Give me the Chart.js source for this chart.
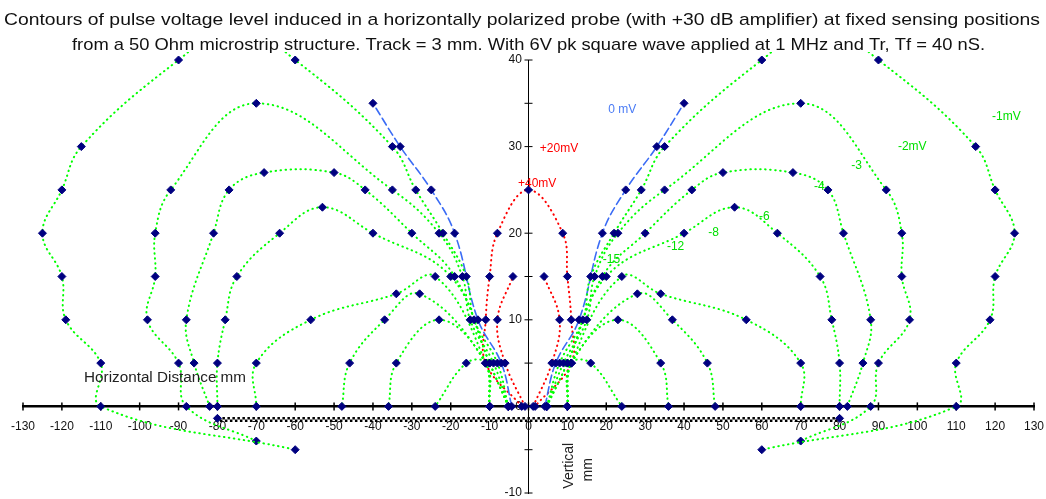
<!DOCTYPE html>
<html>
<head>
<meta charset="utf-8">
<script src="https://cdn.jsdelivr.net/npm/chart.js@4.4.1/dist/chart.umd.min.js"></script>
<style>
  html, body { margin: 0; padding: 0; background: #fff; }
  canvas { display: block; }
</style>
</head>
<body>
<canvas id="chart" width="1046" height="499"></canvas>
<script>
// two-line chart heading
const titleLines = [
  'Contours of pulse voltage level induced in a horizontally polarized probe (with +30 dB amplifier) at fixed sensing positions',
  'from a 50 Ohm microstrip structure. Track = 3 mm. With 6V pk square wave applied at 1 MHz and Tr, Tf = 40 nS.'
];

// contour points [horizontal mm, vertical mm]
const plus40 = [[-1.75,0],[-11,5],[-11,10],[-10,15],[-8,20],[0,25],[8.8,20],[10,15],[11,10],[11,5],[1.7,0]];
const plus20Left  = [[-0.9,0],[-6,5],[-8,10],[-4,15]];
const plus20Right = [[1.2,0],[6,5],[8,10],[4,15]];

const zeroLeft  = [[-4.3,0],[-7,5],[-13,10],[-19,20],[-25,25],[-33,30],[-40,35]];
const zeroRight = [[4.2,0],[7,5],[13,10],[19,20],[25,25],[33,30],[40,35]];

const minus1Left  = [[-5.2,0],[-8,5],[-14,10],[-16,15],[-22,20],[-29,25],[-35,30],[-60,40],[-75,44],[-90,40],[-115,30],[-120,25],[-125,20],[-120,15],[-119,10],[-110,5],[-110,0],[-60,-5]];
const minus1Right = [[4.7,0],[8,5],[14,10],[16,15],[22,20],[29,25],[35,30],[60,40],[75,44],[90,40],[115,30],[120,25],[125,20],[120,15],[118.7,10],[110,5],[110,0],[60,-5]];

const minus2Left  = [[-5.2,0],[-9,5],[-15,10],[-17,15],[-23,20],[-35,25],[-70,35],[-92,25],[-96,20],[-96,15],[-98,10],[-90,5],[-88,0],[-70,-4]];
const minus2Right = [[4.7,0],[9,5],[15,10],[17,15],[23,20],[35,25],[70,35],[92,25],[96,20],[96,15],[98,10],[90,5],[88,0],[70,-4]];

const minus3Left  = [[-5.2,0],[-10,5],[-19,15],[-30,20],[-42,25],[-50,27],[-68,27],[-77,25],[-81,20],[-88,10],[-86,5],[-82,0]];
const minus3Right = [[4.7,0],[10,5],[19,15],[30,20],[42,25],[50,27],[68,27],[77,25],[81,20],[88,10],[86,5],[82,0]];

const minus4Left  = [[-5.2,0],[-10,5],[-20,15],[-40,20],[-53,23],[-64,20],[-75,15],[-78,10],[-80,5],[-80,0]];
const minus4Right = [[4.7,0],[10,5],[20,15],[40,20],[53,23],[64,20],[75,15],[78,10],[80,5],[80,0]];

const minus6Left  = [[-10,0],[-11,5],[-24,15],[-34,13],[-56,10],[-70,5],[-70,0]];
const minus6Right = [[10,0],[11,5],[24,15],[34,13],[56,10],[70,5],[70,0]];

const minus8Left  = [[-10,0],[-11,5],[-28,13],[-37,10],[-46,5],[-48,0]];
const minus8Right = [[10,0],[11,5],[28,13],[37,10],[46,5],[48,0]];

const minus12Left  = [[-10,0],[-11,5],[-23,10],[-34,5],[-36,0]];
const minus12Right = [[10,0],[11,5],[23,10],[34,5],[36,0]];

const minus15Left  = [[-10,0],[-11,5],[-16,5],[-24,0]];
const minus15Right = [[10,0],[11,5],[16,5],[24,0]];

// microstrip track, two edges of the strip
const trackTop    = [[-80,-1.38],[80,-1.38]];
const trackBottom = [[-80,-1.66],[80,-1.66]];

// contour level notes
const noteText  = ['-1mV','-2mV','-3','-4','-6','-8','-12','-15','0 mV','+20mV','+40mV'];
const noteX     = [119.2, 95, 83, 73.4, 59.3, 46.2, 35.6, 19.1, 20.5, 2.9, -2.7];
const noteY     = [33.5, 30, 27.8, 25.4, 21.9, 20.1, 18.5, 16.9, 34.3, 29.8, 25.7];
const noteColor = ['#00e000','#00e000','#00e000','#00e000','#00e000','#00e000','#00e000','#00e000','#4a7bf5','#ff0000','#ff0000'];

const GREEN = '#00ff00';
const NAVY = '#000080';
const FONT = "'Liberation Sans', Arial, sans-serif";

function pts(arr) {
  return arr.map(p => ({x: p[0], y: p[1]}));
}

function contour(arr, color, dash, width) {
  return {
    data: pts(arr),
    showLine: true,
    borderColor: color,
    borderWidth: width,
    borderDash: dash,
    borderCapStyle: 'round',
    tension: 0.4,
    pointStyle: 'rectRot',
    pointRadius: 4,
    pointHoverRadius: 4,
    pointBackgroundColor: NAVY,
    pointBorderColor: NAVY,
    pointBorderWidth: 1,
    clip: {left: 2, right: 2, top: 8, bottom: 2}
  };
}

const dotted = [0.5, 4.5];
const greens = [minus1Left, minus1Right, minus2Left, minus2Right, minus3Left, minus3Right,
  minus4Left, minus4Right, minus6Left, minus6Right, minus8Left, minus8Right,
  minus12Left, minus12Right, minus15Left, minus15Right];

const datasets = [];
greens.forEach(g => datasets.push(contour(g, GREEN, dotted, 2)));
datasets.push(contour(zeroLeft, '#3b6cf5', [8, 4], 1.6));
datasets.push(contour(zeroRight, '#3b6cf5', [8, 4], 1.6));
datasets.push(contour(plus40, '#ff0000', dotted, 2));
datasets.push(contour(plus20Left, '#ff0000', dotted, 2));
datasets.push(contour(plus20Right, '#ff0000', dotted, 2));

const t1 = contour(trackTop, '#000', [2.5, 2.5], 2.5);
t1.tension = 0; t1.pointRadius = [4, 4]; t1.borderCapStyle = 'butt';
const t2 = contour(trackBottom, '#000', [2.5, 2.5], 2.5);
t2.tension = 0; t2.pointRadius = 0; t2.borderCapStyle = 'butt'; t2.borderDashOffset = 2.5;
datasets.push(t2, t1);

// draw a text line stretched to a measured width
function fitText(ctx, text, cx, cy, width) {
  const w = ctx.measureText(text).width;
  ctx.save();
  ctx.translate(cx, cy);
  ctx.scale(width / w, 1);
  ctx.fillText(text, 0, 0);
  ctx.restore();
}

// centred axes should not push the plot area in
function noPad(scale) {
  scale.paddingLeft = 0;
  scale.paddingRight = 0;
  scale.paddingTop = 0;
  scale.paddingBottom = 0;
}

const notes = {
  id: 'notes',
  beforeDatasetsDraw(chart) {
    const ctx = chart.ctx;
    const xs = chart.scales.x, ys = chart.scales.y;
    const x0 = xs.getPixelForValue(0), y0 = ys.getPixelForValue(0);
    ctx.save();
    ctx.strokeStyle = '#000';
    ctx.lineWidth = 1.5;
    xs.ticks.forEach(t => {
      const px = xs.getPixelForValue(t.value);
      ctx.beginPath(); ctx.moveTo(px, y0 - 4); ctx.lineTo(px, y0 + 4); ctx.stroke();
    });
    ctx.lineWidth = 1;
    ys.ticks.forEach(t => {
      const py = ys.getPixelForValue(t.value);
      ctx.beginPath(); ctx.moveTo(x0 - 4, py); ctx.lineTo(x0 + 4, py); ctx.stroke();
    });
    ctx.restore();
  },
  afterDatasetsDraw(chart) {
    const ctx = chart.ctx;
    const xs = chart.scales.x, ys = chart.scales.y;
    ctx.save();
    ctx.textBaseline = 'middle';
    ctx.fillStyle = '#111';
    ctx.textAlign = 'center';
    ctx.font = '17px ' + FONT;
    fitText(ctx, titleLines[0], 522, 20, 1036);
    fitText(ctx, titleLines[1], 528.5, 45, 913);

    ctx.font = '12px ' + FONT;
    ctx.textAlign = 'left';
    noteText.forEach((t, i) => {
      ctx.fillStyle = noteColor[i];
      ctx.fillText(t, xs.getPixelForValue(noteX[i]), ys.getPixelForValue(noteY[i]));
    });

    ctx.fillStyle = '#222';
    ctx.font = '14px ' + FONT;
    fitText(ctx, 'Horizontal Distance mm', xs.getPixelForValue(-114.3), ys.getPixelForValue(3.3), 162);

    ctx.translate(xs.getPixelForValue(10.4), ys.getPixelForValue(-6.85));
    ctx.rotate(-Math.PI / 2);
    ctx.textAlign = 'center';
    ctx.fillText('Vertical', 0, 0);
    ctx.fillText('mm', -4, 19);
    ctx.restore();
  }
};

new Chart(document.getElementById('chart'), {
  type: 'scatter',
  data: {datasets},
  options: {
    responsive: false,
    animation: false,
    devicePixelRatio: 1,
    layout: {padding: {left: 23, right: 12, top: 60, bottom: 6}},
    plugins: {legend: {display: false}, tooltip: {enabled: false}, title: {display: false}},
    scales: {
      x: {
        type: 'linear',
        position: {y: 0},
        min: -130, max: 130,
        afterFit: noPad,
        ticks: {stepSize: 10, color: '#111', font: {family: FONT, size: 12}, padding: 13, maxRotation: 0, autoSkip: false},
        grid: {drawOnChartArea: false, drawTicks: false},
        border: {display: true, color: '#000', width: 2.5, dash: [9, 4]}
      },
      y: {
        type: 'linear',
        position: {x: 0},
        min: -10, max: 40,
        afterFit: noPad,
        ticks: {stepSize: 5, color: '#111', font: {family: FONT, size: 12}, autoSkip: false,
          callback: v => (v % 10 === 0 ? v + '  ' : '')},
        grid: {drawOnChartArea: false, drawTicks: false},
        border: {display: true, color: '#000', width: 1}
      }
    }
  },
  plugins: [notes]
});
</script>
</body>
</html>
